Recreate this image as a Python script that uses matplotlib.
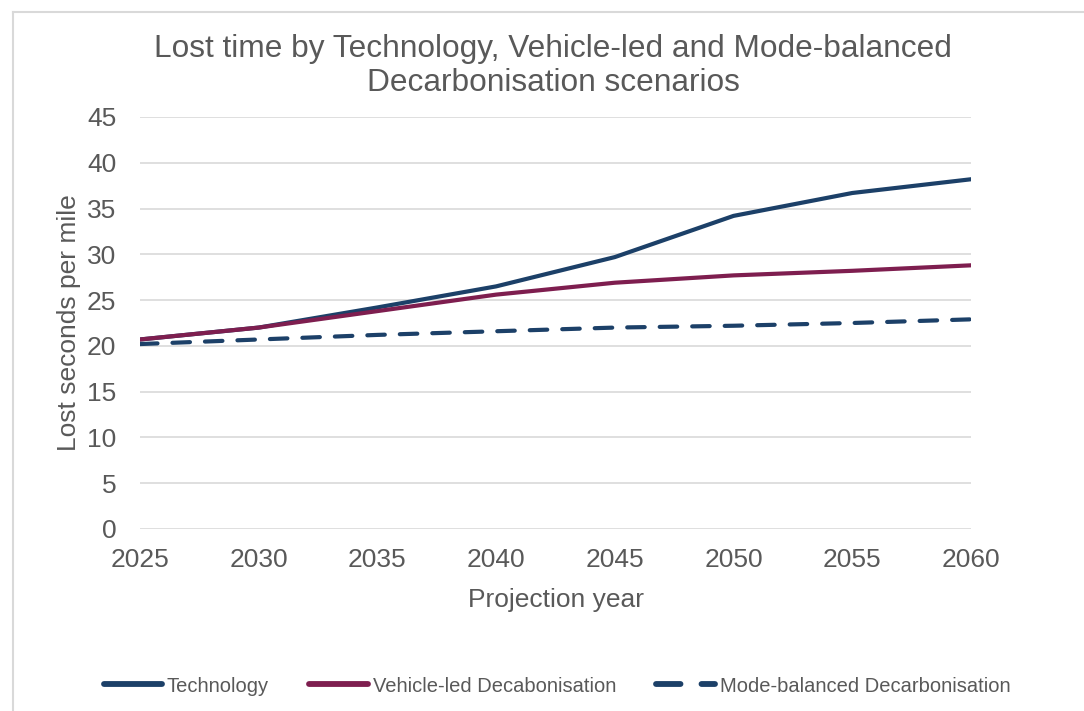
import matplotlib
matplotlib.use("Agg")
import matplotlib.pyplot as plt
from matplotlib.lines import Line2D

years = [2025, 2030, 2035, 2040, 2045, 2050, 2055, 2060]
technology = [20.7, 22.0, 24.2, 26.5, 29.7, 34.2, 36.7, 38.2]
vehicle_led = [20.7, 22.0, 23.8, 25.6, 26.9, 27.7, 28.2, 28.8]
mode_balanced = [20.2, 20.7, 21.2, 21.6, 22.0, 22.2, 22.5, 22.9]
y_ticks = [0, 5, 10, 15, 20, 25, 30, 35, 40, 45]

title = "Lost time by Technology, Vehicle-led and Mode-balanced\nDecarbonisation scenarios"
xlabel = "Projection year"
ylabel = "Lost seconds per mile"

navy = "#1C4068"
maroon = "#7E1E4F"
grey_text = "#595959"
grid_col = "#D9D9D9"

plt.rcParams['font.family'] = ['Liberation Sans', 'DejaVu Sans']

fig = plt.figure(figsize=(10.84, 7.11), dpi=100)
ax = fig.add_axes([140/1084, 1-529/711, (971-140)/1084, (529-117)/711])

ax.plot(years, technology, color=navy, lw=3.0, solid_capstyle='round', label="Technology", zorder=3)
ax.plot(years, vehicle_led, color=maroon, lw=3.0, solid_capstyle='round', label="Vehicle-led Decabonisation", zorder=3)
ax.plot(years, mode_balanced, color=navy, lw=3.0, dashes=(4.2, 3.6), dash_capstyle='round',
        label="Mode-balanced Decarbonisation", zorder=3)

ax.set_xlim(2025, 2060)
ax.set_ylim(0, 45)
ax.set_xticks(years)
ax.set_yticks(y_ticks)
ax.grid(axis='y', color=grid_col, lw=1.2)
ax.set_axisbelow(True)
for s in ax.spines.values():
    s.set_visible(False)
ax.tick_params(length=0, labelsize=19, colors=grey_text)
ax.tick_params(axis='y', pad=17)
ax.tick_params(axis='x', pad=14)

ax.set_xlabel(xlabel, fontsize=19, color=grey_text, labelpad=11)
ax.set_ylabel(ylabel, fontsize=19, color=grey_text, labelpad=4)

fig.text(553/1084, 1-66/711, title, ha='center', va='center', fontsize=22.8, color=grey_text,
         linespacing=1.15)

leg = fig.legend(loc='center', bbox_to_anchor=(557/1084, 1-686/711), ncol=3, frameon=False,
                 fontsize=14.5, handlelength=2.9, handletextpad=0.25, columnspacing=2.0)
for t in leg.get_texts():
    t.set_color(grey_text)
for ln in leg.get_lines():
    ln.set_linewidth(4.2)

fig.add_artist(Line2D([13/1084, 13/1084], [0, 1-12/711], transform=fig.transFigure, color=grid_col, lw=1.5))
fig.add_artist(Line2D([13/1084, 1], [1-12/711, 1-12/711], transform=fig.transFigure, color=grid_col, lw=1.5))

fig.savefig("out.png", dpi=100)
